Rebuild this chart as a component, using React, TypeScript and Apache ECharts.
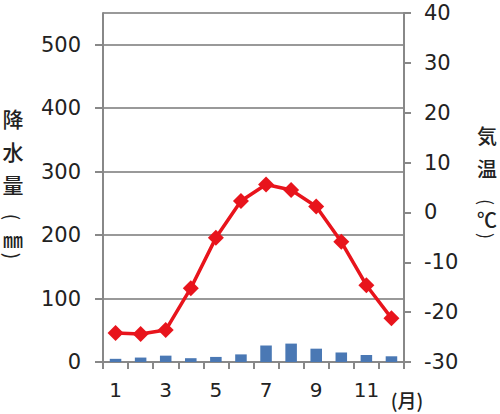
import React, { useEffect, useRef } from "react";
import * as echarts from "echarts";

const months = ["1", "2", "3", "4", "5", "6", "7", "8", "9", "10", "11", "12"];
const precipitation = [5, 7, 10, 6, 8, 12, 26, 29, 21, 15, 11, 9];
const temperature = [-24.2, -24.4, -23.6, -15.2, -5.1, 2.3, 5.6, 4.5, 1.2, -5.9, -14.6, -21.2];
const leftTitle = ["降", "水", "量", "(", "㎜", ")"];
const rightTitle = ["気", "温", "(", "℃", ")"];
const monthUnit = "(月)";

const CJK = "'Noto Sans CJK JP', sans-serif";
const NUM = "'DejaVu Sans', sans-serif";

export default function App() {
  const ref = useRef<HTMLDivElement>(null);
  useEffect(() => {
    if (!ref.current) return;
    const chart = echarts.init(ref.current, null, { renderer: "svg" });
    const leftY = [118, 151, 184, 217, 239, 256];
    const rightY = [135, 168, 202, 219, 236];
    const graphics: any[] = [];
    const addText = (t: string, x: number, y: number, size: number) => {
      const isBr = t === "(" || t === ")";
      graphics.push({
        type: "text",
        x,
        y,
        rotation: isBr ? -Math.PI / 2 : 0,
        style: {
          text: t,
          font: `${isBr ? 400 : 500} ${size}px ${CJK}`,
          fill: "#222",
          align: "center",
          verticalAlign: "middle",
        },
      });
    };
    leftTitle.forEach((t, i) => {
      const isBr = t === "(" || t === ")";
      addText(t, 13, leftY[i], isBr ? 19 : t === "㎜" ? 20 : 21);
    });
    rightTitle.forEach((t, i) => {
      const isBr = t === "(" || t === ")";
      addText(t, 487, rightY[i], isBr ? 18 : 20);
    });
    graphics.push({
      type: "text",
      x: 407,
      y: 399,
      style: {
        text: monthUnit,
        font: `500 19px ${CJK}`,
        fill: "#222",
        align: "center",
        verticalAlign: "middle",
      },
    });
    chart.setOption({
      animation: false,
      backgroundColor: "#fff",
      grid: { left: 103, right: 96, top: 13, bottom: 52, containLabel: false },
      graphic: graphics,
      xAxis: {
        type: "category",
        data: months,
        boundaryGap: true,
        axisLine: { lineStyle: { color: "#888", width: 2 } },
        axisTick: { show: true, length: 7, lineStyle: { color: "#888", width: 2 }, interval: 0 },
        axisLabel: {
          interval: 1,
          color: "#222",
          fontSize: 20,
          fontFamily: NUM,
          margin: 18,
        },
      },
      yAxis: [
        {
          type: "value",
          min: 0,
          max: 550,
          interval: 100,
          position: "left",
          axisLine: { show: true, lineStyle: { color: "#888", width: 2 } },
          axisTick: { show: true, length: 8, lineStyle: { color: "#888", width: 2 } },
          splitLine: { show: true, lineStyle: { color: "#999", width: 2 } },
          axisLabel: {
            color: "#222",
            fontSize: 21,
            fontFamily: NUM,
            margin: 22,
            showMaxLabel: false,
            formatter: (v: number) => (v > 500 ? "" : String(v)),
          },
        },
        {
          type: "value",
          min: -30,
          max: 40,
          interval: 10,
          position: "right",
          axisLine: { show: true, lineStyle: { color: "#888", width: 2 } },
          axisTick: { show: true, length: 7, lineStyle: { color: "#888", width: 2 } },
          splitLine: { show: false },
          axisLabel: {
            color: "#222",
            fontSize: 21,
            fontFamily: NUM,
            margin: 20,
          },
        },
      ],
      series: [
        {
          type: "bar",
          yAxisIndex: 0,
          data: precipitation,
          barWidth: "46%",
          itemStyle: { color: "#4a78b4" },
        },
        {
          type: "line",
          yAxisIndex: 1,
          data: temperature,
          symbol: "diamond",
          symbolSize: 16,
          lineStyle: { color: "#e8141c", width: 3.5 },
          itemStyle: { color: "#e8141c" },
          z: 3,
        },
      ],
    });
    return () => chart.dispose();
  }, []);
  return (
    <div
      ref={ref}
      style={{ position: "fixed", left: 0, top: 0, width: 500, height: 414 }}
    />
  );
}
